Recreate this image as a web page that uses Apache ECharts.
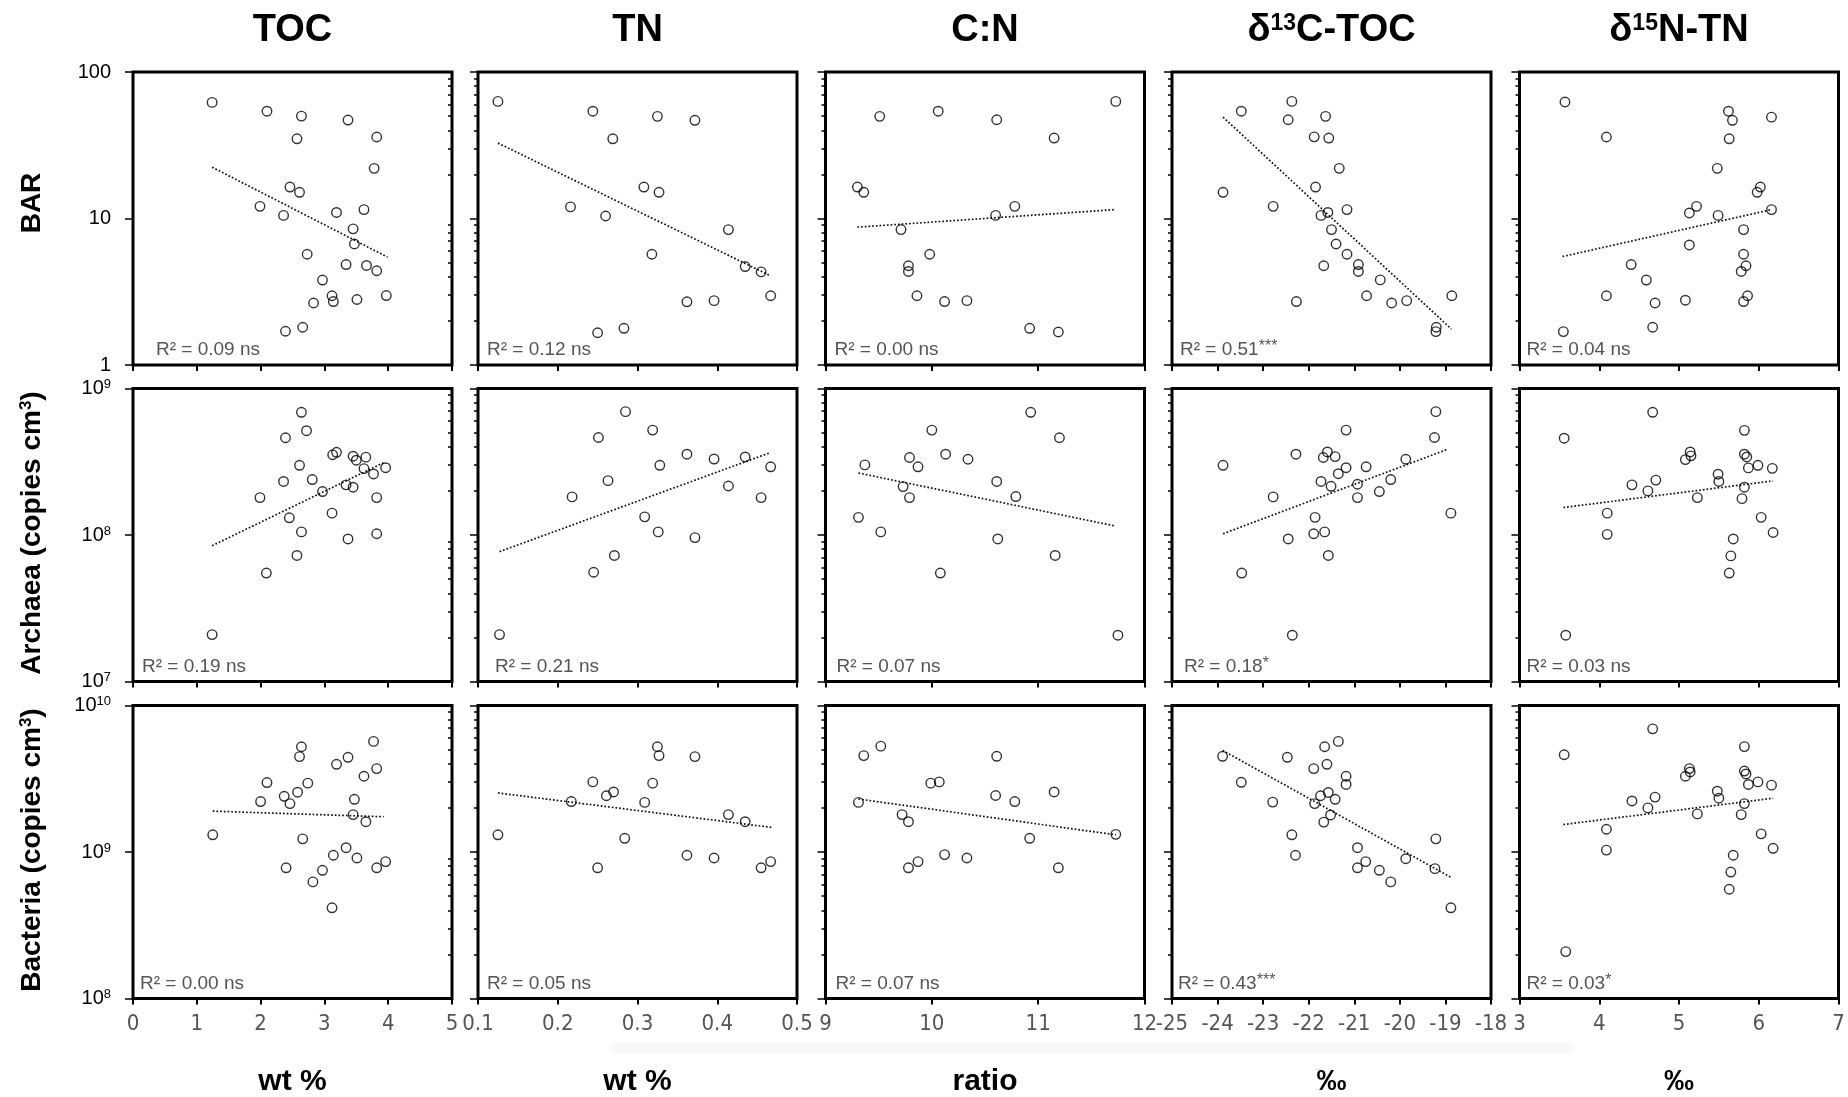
<!DOCTYPE html>
<html><head><meta charset="utf-8">
<script src="https://cdn.jsdelivr.net/npm/echarts@6/dist/echarts.min.js"></script>
<style>html,body{margin:0;padding:0;background:#fff}#c{width:1848px;height:1097px}</style>
</head><body><div id="c"></div>
<script>
// ---------- categories / labels ----------
const colTitles = ['{t|TOC}', '{t|TN}', '{t|C:N}', '{t|δ}{s|13}{t|C-TOC}', '{t|δ}{s|15}{t|N-TN}'];
const xUnits = ['wt %', 'wt %', 'ratio', '‰', '‰'];
const rowTitles = ['{t|BAR}', '{t|Archaea (copies cm}{s|3}{t|)}', '{t|Bacteria (copies cm}{s|3}{t|)}'];
const xMin = [0, 0.1, 9, -25, 3];
const xMax = [5, 0.5, 12, -18, 7];
const xInterval = [1, 0.1, 1, 1, 1];
const yMin = [1, 1e7, 1e8];
const yMax = [100, 1e9, 1e10];
const yMajorTicks = [[1, 10, 100], [1e7, 1e8, 1e9], [1e8, 1e9, 1e10]];
const r2Values = [['0.09', '0.12', '0.00', '0.51', '0.04'],
                  ['0.19', '0.21', '0.07', '0.18', '0.03'],
                  ['0.00', '0.05', '0.07', '0.43', '0.03']];
const r2Signif = [['ns', 'ns', 'ns', '***', 'ns'],
                  ['ns', 'ns', 'ns', '*', 'ns'],
                  ['ns', 'ns', 'ns', '***', '*']];

// ---------- BAR row ----------
const BAR_TOC = [[1.24,62],[2.10,54],[2.64,50],[3.37,47],[2.57,35],[3.82,36],[3.78,22],[2.46,16.4],[2.61,15.1],[1.99,12.1],[2.36,10.5],[3.19,11],[3.62,11.5],[3.45,8.5],[3.47,6.7],[2.73,5.7],[3.34,4.85],[3.66,4.78],[3.82,4.4],[2.97,3.8],[3.12,2.97],[3.14,2.71],[2.83,2.65],[3.51,2.8],[3.97,2.98],[2.39,1.70],[2.66,1.81]];
const BAR_TN = [[0.125,63],[0.244,54],[0.325,49.8],[0.372,46.8],[0.269,35],[0.308,16.4],[0.327,15.1],[0.216,12],[0.260,10.4],[0.414,8.4],[0.318,5.7],[0.435,4.7],[0.455,4.32],[0.467,2.97],[0.362,2.7],[0.396,2.75],[0.250,1.66],[0.283,1.78]];
const BAR_CN = [[11.73,63],[10.06,54],[9.51,49.8],[10.61,47.2],[11.15,35.4],[9.30,16.4],[9.36,15.1],[10.78,12.1],[10.60,10.5],[9.71,8.4],[9.98,5.7],[9.78,4.76],[9.78,4.35],[9.86,2.97],[10.12,2.71],[10.33,2.75],[10.92,1.78],[11.19,1.68]];
const BAR_D13C = [[-22.37,63],[-23.48,54],[-22.45,47.2],[-21.63,49.8],[-21.88,36.1],[-21.56,35.4],[-21.33,22],[-23.88,15.1],[-21.85,16.4],[-22.78,12.1],[-21.16,11.5],[-21.73,10.5],[-21.58,11],[-21.50,8.4],[-21.40,6.7],[-21.16,5.7],[-21.67,4.76],[-20.91,4.85],[-20.91,4.35],[-20.43,3.81],[-20.73,2.97],[-20.18,2.65],[-19.85,2.75],[-18.86,2.97],[-22.27,2.71],[-19.20,1.81],[-19.21,1.69]];
const BAR_D15N = [[3.57,62.4],[5.62,54],[5.67,46.8],[6.16,49.2],[4.09,36],[5.63,35],[5.48,22],[6.02,16.4],[5.98,15.1],[5.22,12.1],[5.13,10.9],[5.49,10.5],[6.16,11.5],[5.81,8.4],[5.13,6.6],[5.81,5.7],[4.40,4.85],[5.84,4.76],[5.78,4.35],[4.59,3.8],[4.09,2.97],[4.70,2.65],[5.08,2.77],[5.86,2.97],[5.81,2.71],[4.67,1.81],[3.55,1.69]];
const FIT_BAR_TOC = [[1.24,22.4],[3.99,5.45]];
const FIT_BAR_TN = [[0.125,32.7],[0.466,4.08]];
const FIT_BAR_CN = [[9.30,8.73],[11.72,11.5]];
const FIT_BAR_D13C = [[-23.88,49.2],[-18.87,1.76]];
const FIT_BAR_D15N = [[3.54,5.5],[6.16,11.5]];

// ---------- Archaea row ----------
const ARC_TOC = [[1.24,2.09e7],[2.64,6.88e8],[2.72,5.15e8],[2.39,4.61e8],[3.13,3.53e8],[3.19,3.67e8],[3.45,3.45e8],[3.50,3.24e8],[3.65,3.40e8],[2.61,2.99e8],[3.62,2.84e8],[3.96,2.88e8],[3.77,2.61e8],[2.81,2.39e8],[2.36,2.32e8],[3.34,2.20e8],[3.45,2.12e8],[2.97,1.98e8],[1.99,1.80e8],[3.82,1.80e8],[2.45,1.31e8],[3.12,1.41e8],[2.64,1.05e8],[3.82,1.02e8],[3.37,9.4e7],[2.57,7.25e7],[2.09,5.5e7]];
const ARC_TN = [[0.127,2.09e7],[0.285,6.95e8],[0.319,5.2e8],[0.251,4.63e8],[0.362,3.56e8],[0.396,3.3e8],[0.435,3.41e8],[0.328,2.99e8],[0.467,2.92e8],[0.263,2.35e8],[0.414,2.16e8],[0.218,1.82e8],[0.455,1.80e8],[0.309,1.33e8],[0.326,1.05e8],[0.372,9.6e7],[0.271,7.25e7],[0.245,5.57e7]];
const ARC_CN = [[10.93,6.88e8],[10.00,5.2e8],[11.20,4.61e8],[10.13,3.56e8],[9.79,3.38e8],[10.34,3.29e8],[9.37,3.01e8],[9.87,2.92e8],[10.61,2.32e8],[9.73,2.14e8],[9.79,1.80e8],[10.79,1.83e8],[9.31,1.32e8],[9.52,1.05e8],[10.62,9.4e7],[11.16,7.25e7],[10.08,5.5e7],[11.75,2.07e7]];
const ARC_D13C = [[-19.21,6.95e8],[-19.24,4.63e8],[-21.18,5.2e8],[-22.28,3.56e8],[-21.59,3.69e8],[-21.68,3.38e8],[-21.42,3.43e8],[-19.87,3.29e8],[-23.88,2.99e8],[-21.18,2.88e8],[-20.74,2.92e8],[-21.35,2.62e8],[-20.20,2.39e8],[-21.73,2.32e8],[-20.93,2.22e8],[-21.51,2.15e8],[-20.45,1.98e8],[-22.78,1.82e8],[-20.93,1.80e8],[-18.88,1.41e8],[-21.86,1.32e8],[-21.89,1.02e8],[-21.65,1.05e8],[-22.45,9.4e7],[-21.57,7.25e7],[-23.47,5.5e7],[-22.36,2.07e7]];
const ARC_D15N = [[4.67,6.88e8],[3.56,4.58e8],[5.82,5.18e8],[5.14,3.69e8],[5.15,3.47e8],[5.08,3.27e8],[5.82,3.56e8],[5.85,3.41e8],[5.99,2.99e8],[5.87,2.87e8],[6.17,2.85e8],[5.49,2.60e8],[5.50,2.32e8],[4.71,2.37e8],[4.41,2.20e8],[5.82,2.12e8],[4.61,2.0e8],[5.23,1.80e8],[5.79,1.77e8],[4.10,1.41e8],[6.03,1.32e8],[4.10,1.01e8],[6.18,1.04e8],[5.68,9.4e7],[5.65,7.2e7],[5.63,5.5e7],[3.58,2.07e7]];
const FIT_ARC_TOC = [[1.24,8.45e7],[3.95,3.15e8]];
const FIT_ARC_TN = [[0.127,7.7e7],[0.466,3.64e8]];
const FIT_ARC_CN = [[9.31,2.65e8],[11.73,1.15e8]];
const FIT_ARC_D13C = [[-23.88,1.02e8],[-18.96,3.84e8]];
const FIT_ARC_D15N = [[3.55,1.54e8],[6.18,2.34e8]];

// ---------- Bacteria row ----------
const BAC_TOC = [[1.25,1.31e9],[3.77,5.69e9],[2.64,5.23e9],[2.61,4.48e9],[3.37,4.43e9],[3.19,3.97e9],[3.82,3.71e9],[3.62,3.29e9],[2.10,2.98e9],[2.74,2.95e9],[2.58,2.56e9],[2.37,2.40e9],[2.00,2.21e9],[2.46,2.14e9],[3.47,2.29e9],[3.45,1.80e9],[3.65,1.61e9],[2.66,1.23e9],[3.34,1.07e9],[3.14,9.5e8],[3.51,9.1e8],[3.96,8.6e8],[3.82,7.8e8],[2.40,7.8e8],[2.97,7.5e8],[2.82,6.25e8],[3.12,4.16e8]];
const BAC_TN = [[0.125,1.31e9],[0.325,5.23e9],[0.327,4.55e9],[0.372,4.48e9],[0.244,3.01e9],[0.319,2.95e9],[0.270,2.57e9],[0.261,2.42e9],[0.217,2.21e9],[0.309,2.18e9],[0.414,1.80e9],[0.435,1.61e9],[0.284,1.24e9],[0.362,9.5e8],[0.396,9.1e8],[0.467,8.6e8],[0.455,7.8e8],[0.250,7.8e8]];
const BAC_CN = [[9.52,5.28e9],[9.36,4.55e9],[10.61,4.50e9],[9.99,2.95e9],[10.07,3.01e9],[11.15,2.57e9],[10.60,2.43e9],[10.78,2.21e9],[9.31,2.18e9],[9.72,1.80e9],[9.78,1.61e9],[11.73,1.32e9],[10.92,1.24e9],[10.12,9.6e8],[10.33,9.1e8],[9.87,8.6e8],[9.78,7.8e8],[11.19,7.8e8]];
const BAC_D13C = [[-21.35,5.69e9],[-21.65,5.23e9],[-22.47,4.43e9],[-23.89,4.50e9],[-21.60,3.97e9],[-21.89,3.71e9],[-21.18,3.29e9],[-21.18,2.89e9],[-23.48,2.99e9],[-21.57,2.55e9],[-21.74,2.42e9],[-21.42,2.29e9],[-22.79,2.19e9],[-21.87,2.14e9],[-21.52,1.79e9],[-21.67,1.60e9],[-22.37,1.31e9],[-19.21,1.23e9],[-20.93,1.07e9],[-22.29,9.5e8],[-19.87,9.0e8],[-20.75,8.6e8],[-20.93,7.8e8],[-19.23,7.7e8],[-20.45,7.5e8],[-20.20,6.25e8],[-18.88,4.16e8]];
const BAC_D15N = [[4.67,6.93e9],[3.56,4.61e9],[5.82,5.24e9],[5.13,3.71e9],[5.14,3.52e9],[5.08,3.29e9],[5.82,3.57e9],[5.84,3.41e9],[5.99,3.01e9],[5.87,2.89e9],[6.16,2.86e9],[5.48,2.60e9],[5.50,2.33e9],[4.70,2.37e9],[4.41,2.23e9],[5.82,2.14e9],[4.61,2.0e9],[5.23,1.82e9],[5.78,1.80e9],[4.09,1.43e9],[6.03,1.33e9],[4.09,1.03e9],[6.18,1.06e9],[5.68,9.5e8],[5.65,7.3e8],[5.63,5.57e8],[3.58,2.09e8]];
const FIT_BAC_TOC = [[1.25,1.90e9],[3.93,1.74e9]];
const FIT_BAC_TN = [[0.125,2.53e9],[0.469,1.47e9]];
const FIT_BAC_CN = [[9.31,2.30e9],[11.73,1.31e9]];
const FIT_BAC_D13C = [[-23.89,4.94e9],[-18.87,6.69e8]];
const FIT_BAC_D15N = [[3.55,1.54e9],[6.18,2.33e9]];

const panelData = [[BAR_TOC, BAR_TN, BAR_CN, BAR_D13C, BAR_D15N],
                   [ARC_TOC, ARC_TN, ARC_CN, ARC_D13C, ARC_D15N],
                   [BAC_TOC, BAC_TN, BAC_CN, BAC_D13C, BAC_D15N]];
const panelFit = [[FIT_BAR_TOC, FIT_BAR_TN, FIT_BAR_CN, FIT_BAR_D13C, FIT_BAR_D15N],
                  [FIT_ARC_TOC, FIT_ARC_TN, FIT_ARC_CN, FIT_ARC_D13C, FIT_ARC_D15N],
                  [FIT_BAC_TOC, FIT_BAC_TN, FIT_BAC_CN, FIT_BAC_D13C, FIT_BAC_D15N]];

// ---------- layout ----------
const FONT = '"Liberation Sans", Arial, Helvetica, sans-serif';
const NARROW = '"Liberation Sans Narrow", "DejaVu Sans Condensed", "Liberation Sans", sans-serif';
const gridLefts = [133, 478, 825.5, 1172, 1519.5];
const gridTops = [72, 388.5, 705.5];
const W = 319, H = 293;
const r2Offsets = [[23, 9, 9, 8, 7], [9, 17, 11, 12, 7], [7, 9, 10, 6, 7]];
const rowLabelY = [203, 533, 850];

function minorTicks(lo, hi) {
  const out = [];
  for (let d = lo; d < hi; d *= 10) for (let m = 2; m <= 9; m++) out.push(m * d);
  return out;
}

const grids = [], xAxes = [], yAxes = [], series = [], graphics = [];
for (let r = 0; r < 3; r++) {
  for (let c = 0; c < 5; c++) {
    const k = r * 5 + c;
    grids.push({left: gridLefts[c], top: gridTops[r], width: W, height: H, show: true,
      borderColor: '#000', borderWidth: 3, backgroundColor: 'rgba(0,0,0,0)'});
    xAxes.push({gridIndex: k, type: 'value', min: xMin[c], max: xMax[c], interval: xInterval[c],
      axisLine: {show: true, onZero: false, lineStyle: {color: '#000', width: 2}},
      axisTick: {show: true, length: 6, lineStyle: {color: '#000', width: 2}},
      axisLabel: {show: r === 2, margin: 15, color: '#555', fontSize: 22, fontFamily: NARROW,
        showMinLabel: true, showMaxLabel: true},
      splitLine: {show: false}});
    yAxes.push({gridIndex: k, type: 'log', logBase: 10, min: yMin[r], max: yMax[r], position: 'left',
      axisLine: {show: true, onZero: false, lineStyle: {color: '#000', width: 2}},
      axisTick: {show: true, length: 8, customValues: yMajorTicks[r], lineStyle: {color: '#000', width: 1.5}},
      axisLabel: {show: c === 0, customValues: yMajorTicks[r], margin: 22, color: '#000',
        fontSize: 20, fontFamily: FONT,
        formatter: function (v) {
          if (r === 0) return '{b|' + Math.round(v) + '}';
          return '{b|10}{s|' + Math.round(Math.log10(v)) + '}';
        },
        rich: {b: {fontSize: 20, fontFamily: FONT, color: '#000'},
               s: {fontSize: 13, fontFamily: FONT, color: '#000', verticalAlign: 'top', padding: [0, 0, 8, 0]}}},
      splitLine: {show: false}});
    yAxes.push({gridIndex: k, type: 'log', logBase: 10, min: yMin[r], max: yMax[r], position: 'right', offset: -W,
      axisLine: {show: false},
      axisTick: {show: true, inside: true, length: 4, customValues: minorTicks(yMin[r], yMax[r]),
        lineStyle: {color: '#000', width: 1.5}},
      axisLabel: {show: false}, splitLine: {show: false}});
    series.push({type: 'scatter', xAxisIndex: k, yAxisIndex: 2 * k, data: panelData[r][c],
      symbol: 'circle', symbolSize: 9.5, silent: true, z: 3,
      itemStyle: {color: 'rgba(255,255,255,0)', borderColor: '#000', borderWidth: 1.4}});
    series.push({type: 'line', xAxisIndex: k, yAxisIndex: 2 * k, data: panelFit[r][c],
      symbol: 'none', silent: true, z: 2,
      lineStyle: {color: '#111', width: 1.7, type: [1.7, 2]}});
    const sig = r2Signif[r][c];
    const txt = sig === 'ns' ? '{t|R² = ' + r2Values[r][c] + ' ns}' : '{t|R² = ' + r2Values[r][c] + '}{s|' + sig + '}';
    graphics.push({type: 'text', x: gridLefts[c] + r2Offsets[r][c], y: gridTops[r] + H - 15, silent: true,
      style: {text: txt, align: 'left', verticalAlign: 'middle', fill: '#555', fontSize: 19, fontFamily: FONT,
        rich: {t: {fontSize: 19, fontFamily: FONT, fill: '#555', color: '#555'},
               s: {fontSize: 16, fontFamily: FONT, fill: '#555', color: '#555', verticalAlign: 'top', padding: [0, 0, 6, 0]}}}});
  }
}
// column titles + x units
for (let c = 0; c < 5; c++) {
  const cx = gridLefts[c] + W / 2;
  graphics.push({type: 'text', x: cx, y: 31, silent: true,
    style: {text: colTitles[c], align: 'center', verticalAlign: 'middle', fill: '#000',
      rich: {t: {fontSize: 38, fontWeight: 'bold', fontFamily: FONT, fill: '#000', color: '#000'},
             s: {fontSize: 23, fontWeight: 'bold', fontFamily: FONT, fill: '#000', color: '#000', verticalAlign: 'top', padding: [0, 0, 15, 0]}}}});
  graphics.push({type: 'text', x: cx, y: 1082, silent: true,
    style: {text: xUnits[c], align: 'center', verticalAlign: 'middle', fill: '#000',
      fontSize: 30, fontWeight: 'bold', fontFamily: FONT}});
}
// row titles
for (let r = 0; r < 3; r++) {
  graphics.push({type: 'text', x: 32, y: rowLabelY[r], rotation: Math.PI / 2, silent: true,
    style: {text: rowTitles[r], align: 'center', verticalAlign: 'middle', fill: '#000',
      rich: {t: {fontSize: 28, fontWeight: 'bold', fontFamily: FONT, fill: '#000', color: '#000'},
             s: {fontSize: 17, fontWeight: 'bold', fontFamily: FONT, fill: '#000', color: '#000', verticalAlign: 'top', padding: [0, 0, 10, 0]}}}});
}
// faint band artifact below the tick labels
graphics.push({type: 'rect', shape: {x: 610, y: 1043, width: 964, height: 11, r: 5}, silent: true, z: -1,
  style: {fill: '#f8f8f8'}});

const chart = echarts.init(document.getElementById('c'), null, {renderer: 'canvas'});
chart.setOption({
  animation: false,
  backgroundColor: '#fff',
  grid: grids, xAxis: xAxes, yAxis: yAxes, series: series, graphic: graphics
});
</script></body></html>
